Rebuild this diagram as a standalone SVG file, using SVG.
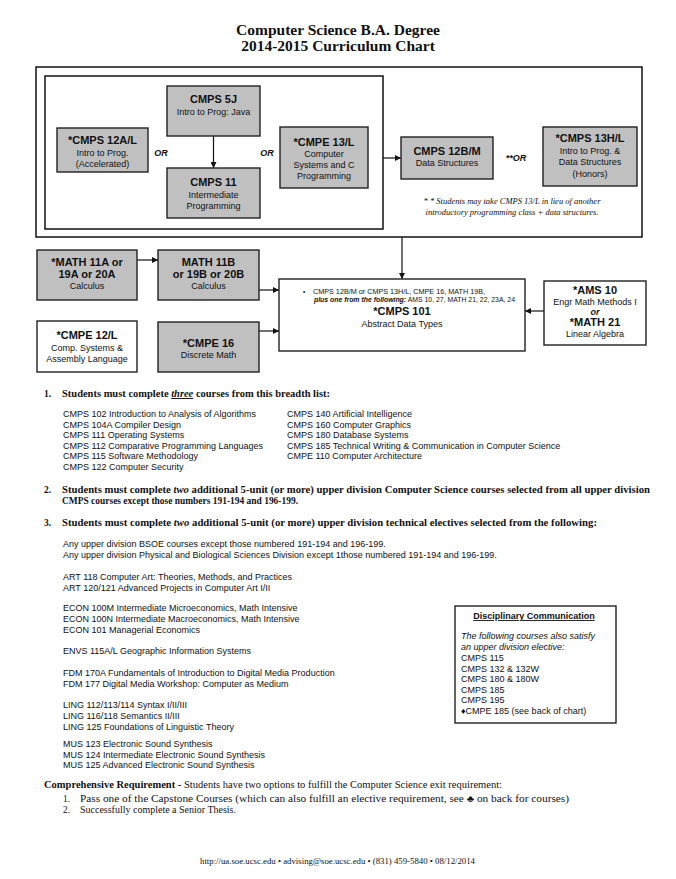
<svg xmlns="http://www.w3.org/2000/svg" width="676" height="879" viewBox="0 0 676 879">
<style>
.bg{fill:#fff}
.box{fill:#c0c0c0;stroke:#222;stroke-width:1.4}
.wbox{fill:#fff;stroke:#222;stroke-width:1.4}
.frame{fill:none;stroke:#111;stroke-width:1.5}
.c{stroke:#111;stroke-width:1.2;fill:none;marker-end:url(#ah)}
.t{font-family:"Liberation Sans",Arial,sans-serif;text-anchor:middle;fill:#111}
.b{font-weight:bold;font-size:11px}
.s{font-size:9px}
.or{font-family:"Liberation Sans",Arial,sans-serif;font-weight:bold;font-style:italic;font-size:9px;fill:#111;text-anchor:middle}
.serif{font-family:"Liberation Serif","Times New Roman",serif;fill:#111}
.title{font-family:"Liberation Serif","Times New Roman",serif;font-weight:bold;font-size:15.5px;text-anchor:middle;fill:#111}
.hd{font-family:"Liberation Serif","Times New Roman",serif;font-weight:bold;font-size:9.5px;fill:#111}
.li{font-family:"Liberation Sans",Arial,sans-serif;font-size:9px;fill:#111}
.note{font-family:"Liberation Serif","Times New Roman",serif;font-style:italic;font-size:8.5px;text-anchor:middle;fill:#111}
.sm{font-family:"Liberation Sans",Arial,sans-serif;font-size:6.3px;fill:#111}
.cr{font-family:"Liberation Serif","Times New Roman",serif;font-size:9.5px;fill:#111}
</style>
<defs>
<marker id="ah" viewBox="0 0 10 10" refX="10" refY="5" markerWidth="6" markerHeight="6" orient="auto" markerUnits="userSpaceOnUse">
<path d="M0,0 L10,5 L0,10 z" fill="#111"/>
</marker>
</defs>
<rect class="bg" x="0" y="0" width="676" height="879"/>

<text class="title" x="338" y="35">Computer Science B.A. Degree</text>
<text class="title" x="338" y="51">2014-2015 Curriculum Chart</text>

<g id="outer-frame"><rect class="frame" x="36" y="67" width="606" height="170"/></g>
<g id="intro-group"><rect class="frame" x="45" y="76" width="338" height="153" stroke-width="1.2"/></g>

<g id="connectors">
<line class="c" x1="213.5" y1="136" x2="213.5" y2="168"/>
<line class="c" x1="383" y1="158" x2="401" y2="158"/>
<line class="c" x1="137" y1="260" x2="158" y2="260"/>
<line class="c" x1="259" y1="290" x2="279" y2="290"/>
<line class="c" x1="259" y1="331" x2="279" y2="331"/>
<line class="c" x1="402" y1="237" x2="402" y2="279"/>
<line class="c" x1="544" y1="311" x2="525" y2="311"/>
</g>

<g id="cmps5j"><rect class="box" x="167" y="86" width="93" height="50"/>
<text class="t b" x="213.5" y="103">CMPS 5J</text>
<text class="t s" x="213.5" y="115">Intro to Prog: Java</text></g>

<g id="cmps12al"><rect class="box" x="57" y="128" width="91" height="44"/>
<text class="t b" x="102.5" y="144">*CMPS 12A/L</text>
<text class="t s" x="102.5" y="156">Intro to Prog.</text>
<text class="t s" x="102.5" y="167">(Accelerated)</text></g>

<g id="cmps11"><rect class="box" x="167" y="168" width="93" height="50"/>
<text class="t b" x="213.5" y="186">CMPS 11</text>
<text class="t s" x="213.5" y="198">Intermediate</text>
<text class="t s" x="213.5" y="209">Programming</text></g>

<g id="cmpe13l"><rect class="box" x="280" y="127" width="88" height="61"/>
<text class="t b" x="324" y="146">*CMPE 13/L</text>
<text class="t s" x="324" y="157">Computer</text>
<text class="t s" x="324" y="168">Systems and C</text>
<text class="t s" x="324" y="179">Programming</text></g>

<text class="or" x="161" y="156">OR</text>
<text class="or" x="267" y="156">OR</text>

<g id="cmps12bm"><rect class="box" x="401" y="137" width="92" height="42"/>
<text class="t b" x="447" y="155">CMPS 12B/M</text>
<text class="t s" x="447" y="166">Data Structures</text></g>

<text class="or" x="516" y="161">**OR</text>

<g id="cmps13hl"><rect class="box" x="543" y="127" width="94" height="59"/>
<text class="t b" x="590" y="142">*CMPS 13H/L</text>
<text class="t s" x="590" y="154">Intro to Prog. &amp;</text>
<text class="t s" x="590" y="165">Data Structures</text>
<text class="t s" x="590" y="177">(Honors)</text></g>

<text class="note" x="512" y="204">* * Students may take CMPS 13/L in lieu of another</text>
<text class="note" x="512" y="215">introductory programming class + data structures.</text>

<g id="math11a"><rect class="box" x="37" y="250" width="100" height="50"/>
<text class="t b" x="87" y="266">*MATH 11A or</text>
<text class="t b" x="87" y="278">19A or 20A</text>
<text class="t s" x="87" y="289">Calculus</text></g>

<g id="math11b"><rect class="box" x="158" y="250" width="101" height="50"/>
<text class="t b" x="208.5" y="266">MATH 11B</text>
<text class="t b" x="208.5" y="278">or 19B or 20B</text>
<text class="t s" x="208.5" y="289">Calculus</text></g>

<g id="cmpe12l"><rect class="wbox" x="37" y="321" width="100" height="51"/>
<text class="t b" x="87" y="339">*CMPE 12/L</text>
<text class="t s" x="87" y="351">Comp. Systems &amp;</text>
<text class="t s" x="87" y="362">Assembly Language</text></g>

<g id="cmpe16"><rect class="box" x="158" y="322" width="101" height="50"/>
<text class="t b" x="208.5" y="347">*CMPE 16</text>
<text class="t s" x="208.5" y="358">Discrete Math</text></g>

<g id="cmps101"><rect class="wbox" x="279" y="279" width="246" height="72"/>
<text class="sm" x="303" y="294">•</text>
<text class="sm" x="313" y="294" textLength="172" lengthAdjust="spacingAndGlyphs">CMPS 12B/M or CMPS 13H/L, CMPE 16, MATH 19B,</text>
<text class="sm" x="314" y="302" textLength="201" lengthAdjust="spacingAndGlyphs"><tspan font-weight="bold" font-style="italic">plus one from the following:</tspan> AMS 10, 27, MATH 21, 22, 23A, 24</text>
<text class="t b" x="402" y="315">*CMPS 101</text>
<text class="t s" x="402" y="327">Abstract Data Types</text></g>

<g id="ams10"><rect class="wbox" x="544" y="281" width="102" height="64"/>
<text class="t b" x="595" y="294">*AMS 10</text>
<text class="t s" x="595" y="305">Engr Math Methods I</text>
<text class="or" x="595" y="315">or</text>
<text class="t b" x="595" y="326">*MATH 21</text>
<text class="t s" x="595" y="337">Linear Algebra</text></g>

<g id="breadth">
<text class="hd" x="44" y="397">1.</text>
<text class="hd" x="62" y="397" textLength="268" lengthAdjust="spacingAndGlyphs">Students must complete <tspan font-style="italic" text-decoration="underline">three</tspan> courses from this breadth list:</text>
<text class="li" x="63" y="417">CMPS 102 Introduction to Analysis of Algorithms</text>
<text class="li" x="63" y="428">CMPS 104A Compiler Design</text>
<text class="li" x="63" y="438">CMPS 111 Operating Systems</text>
<text class="li" x="63" y="449">CMPS 112 Comparative Programming Languages</text>
<text class="li" x="63" y="459">CMPS 115 Software Methodology</text>
<text class="li" x="63" y="470">CMPS 122 Computer Security</text>
<text class="li" x="287" y="417">CMPS 140 Artificial Intelligence</text>
<text class="li" x="287" y="428">CMPS 160 Computer Graphics</text>
<text class="li" x="287" y="438">CMPS 180 Database Systems</text>
<text class="li" x="287" y="449">CMPS 185 Technical Writing &amp; Communication in Computer Science</text>
<text class="li" x="287" y="459">CMPE 110 Computer Architecture</text>
</g>

<g id="upper-div">
<text class="hd" x="44" y="493">2.</text>
<text class="hd" x="62" y="493" textLength="588" lengthAdjust="spacingAndGlyphs">Students must complete <tspan font-style="italic">two</tspan> additional 5-unit (or more) upper division Computer Science courses selected from all upper division</text>
<text class="hd" x="62" y="504" textLength="236" lengthAdjust="spacingAndGlyphs">CMPS courses except those numbers 191-194 and 196-199.</text>
<text class="hd" x="44" y="526">3.</text>
<text class="hd" x="62" y="526" textLength="535" lengthAdjust="spacingAndGlyphs">Students must complete <tspan font-style="italic">two</tspan> additional 5-unit (or more) upper division technical electives selected from the following:</text>
</g>

<g id="electives">
<text class="li" x="63" y="547">Any upper division BSOE courses except those numbered 191-194 and 196-199.</text>
<text class="li" x="63" y="558">Any upper division Physical and Biological Sciences Division except 1those numbered 191-194 and 196-199.</text>
<text class="li" x="63" y="580">ART 118 Computer Art: Theories, Methods, and Practices</text>
<text class="li" x="63" y="591">ART 120/121 Advanced Projects in Computer Art I/II</text>
<text class="li" x="63" y="611">ECON 100M Intermediate Microeconomics, Math Intensive</text>
<text class="li" x="63" y="622">ECON 100N Intermediate Macroeconomics, Math Intensive</text>
<text class="li" x="63" y="633">ECON 101 Managerial Economics</text>
<text class="li" x="63" y="654">ENVS 115A/L Geographic Information Systems</text>
<text class="li" x="63" y="676">FDM 170A Fundamentals of Introduction to Digital Media Production</text>
<text class="li" x="63" y="687">FDM 177 Digital Media Workshop: Computer as Medium</text>
<text class="li" x="63" y="708">LING 112/113/114 Syntax I/II/III</text>
<text class="li" x="63" y="719">LING 116/118 Semantics II/III</text>
<text class="li" x="63" y="730">LING 125 Foundations of Linguistic Theory</text>
<text class="li" x="63" y="747">MUS 123 Electronic Sound Synthesis</text>
<text class="li" x="63" y="758">MUS 124 Intermediate Electronic Sound Synthesis</text>
<text class="li" x="63" y="768">MUS 125 Advanced Electronic Sound Synthesis</text>
</g>

<g id="disciplinary"><rect class="wbox" x="455" y="606" width="161" height="117"/>
<text class="t" x="534" y="619" font-size="9" font-weight="bold" text-decoration="underline">Disciplinary Communication</text>
<text class="li" x="461" y="639" font-style="italic">The following courses also satisfy</text>
<text class="li" x="461" y="650" font-style="italic">an upper division elective:</text>
<text class="li" x="461" y="661">CMPS 115</text>
<text class="li" x="461" y="672">CMPS 132 &amp; 132W</text>
<text class="li" x="461" y="682">CMPS 180 &amp; 180W</text>
<text class="li" x="461" y="693">CMPS 185</text>
<text class="li" x="461" y="703">CMPS 195</text>
<text class="li" x="461" y="714">♦CMPE 185 (see back of chart)</text>
</g>

<g id="comprehensive">
<text class="cr" x="44" y="788" textLength="458" lengthAdjust="spacingAndGlyphs"><tspan font-weight="bold">Comprehensive Requirement - </tspan>Students have two options to fulfill the Computer Science exit requirement:</text>
<text class="cr" x="63" y="802">1.</text>
<text class="cr" x="80" y="802" textLength="489" lengthAdjust="spacingAndGlyphs">Pass one of the Capstone Courses (which can also fulfill an elective requirement, see ♣ on back for courses)</text>
<text class="cr" x="63" y="813">2.</text>
<text class="cr" x="80" y="813" textLength="156" lengthAdjust="spacingAndGlyphs">Successfully complete a Senior Thesis.</text>
</g>

<text class="serif" x="200" y="864" font-size="8" textLength="275" lengthAdjust="spacingAndGlyphs">http://ua.soe.ucsc.edu • advising@soe.ucsc.edu • (831) 459-5840 • 08/12/2014</text>
</svg>
